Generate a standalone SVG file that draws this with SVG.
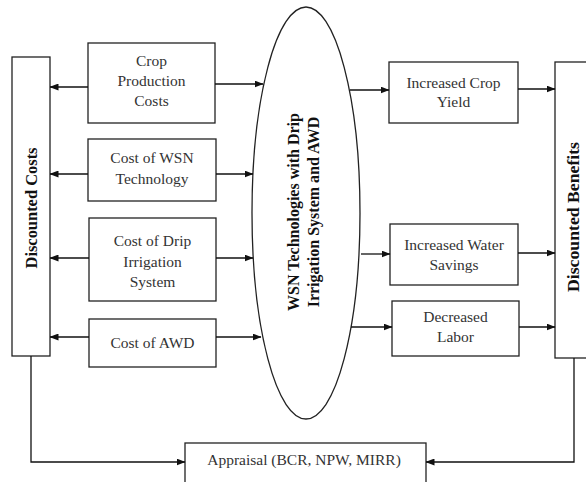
<svg xmlns="http://www.w3.org/2000/svg" width="586" height="482" viewBox="0 0 586 482">
<defs>
<marker id="ah" markerWidth="9" markerHeight="7" refX="8.5" refY="3.5" orient="auto" markerUnits="userSpaceOnUse">
<path d="M0,0 L9,3.5 L0,7 z" fill="#111"/>
</marker>
<style>
rect, ellipse { fill: #fff; stroke: #222; stroke-width: 1.3; }
.t { font-family: "Times New Roman", "Liberation Serif", "DejaVu Serif", serif; font-size: 15.5px; font-weight: normal; fill: #333; text-anchor: middle; }
.b { font-family: "Liberation Serif", "Times New Roman", serif; font-size: 16px; font-weight: bold; fill: #111; text-anchor: middle; }
#connectors path, #connectors line { fill: none; stroke: #111; stroke-width: 1.3; marker-end: url(#ah); }
</style>
</defs>
<rect width="586" height="482" style="fill:#fff;stroke:none"/>

<g id="discounted-costs">
<rect x="12" y="57" width="38" height="299"/>
<text class="b" transform="translate(37,208) rotate(-90)" textLength="121" lengthAdjust="spacingAndGlyphs">Discounted Costs</text>
</g>

<g id="crop-production-costs">
<rect x="88" y="43" width="127" height="80"/>
<text class="t" x="151.5" y="66">Crop</text>
<text class="t" x="151.5" y="86">Production</text>
<text class="t" x="151.5" y="106">Costs</text>
</g>

<g id="cost-wsn">
<rect x="88" y="139" width="128" height="62"/>
<text class="t" x="152" y="163">Cost of WSN</text>
<text class="t" x="152" y="184">Technology</text>
</g>

<g id="cost-drip">
<rect x="89" y="218" width="127" height="83"/>
<text class="t" x="152.5" y="246">Cost of Drip</text>
<text class="t" x="152.5" y="267">Irrigation</text>
<text class="t" x="152.5" y="287">System</text>
</g>

<g id="cost-awd">
<rect x="89" y="319" width="127" height="48"/>
<text class="t" x="152.5" y="348">Cost of AWD</text>
</g>

<g id="wsn-technologies">
<ellipse cx="306" cy="213" rx="54" ry="206"/>
<text class="b" transform="translate(299,212) rotate(-90)">WSN Technologies with Drip</text>
<text class="b" transform="translate(319,212) rotate(-90)">Irrigation System and AWD</text>
</g>

<g id="increased-crop-yield">
<rect x="389" y="62" width="129" height="61"/>
<text class="t" x="453.5" y="88">Increased Crop</text>
<text class="t" x="453.5" y="107">Yield</text>
</g>

<g id="increased-water-savings">
<rect x="390" y="224" width="128" height="61"/>
<text class="t" x="454" y="250">Increased Water</text>
<text class="t" x="454" y="270">Savings</text>
</g>

<g id="decreased-labor">
<rect x="392" y="301" width="127" height="55"/>
<text class="t" x="455.5" y="322">Decreased</text>
<text class="t" x="455.5" y="342">Labor</text>
</g>

<g id="discounted-benefits">
<rect x="555" y="62" width="40" height="296"/>
<text class="b" transform="translate(579,217) rotate(-90)" textLength="150" lengthAdjust="spacingAndGlyphs">Discounted Benefits</text>
</g>

<g id="appraisal">
<rect x="185" y="443" width="241" height="50"/>
<text class="t" x="304" y="465">Appraisal (BCR, NPW, MIRR)</text>
</g>

<g id="connectors">
<line x1="88" y1="87" x2="50" y2="87"/>
<line x1="215" y1="84" x2="263" y2="84"/>
<line x1="88" y1="174" x2="50" y2="174"/>
<line x1="216" y1="174" x2="253" y2="174"/>
<line x1="89" y1="258" x2="50" y2="258"/>
<line x1="216" y1="258" x2="253" y2="258"/>
<line x1="89" y1="337" x2="50" y2="337"/>
<line x1="216" y1="337" x2="261" y2="337"/>
<line x1="350" y1="90" x2="389" y2="90"/>
<line x1="518" y1="89" x2="555" y2="89"/>
<line x1="361" y1="254" x2="390" y2="254"/>
<line x1="518" y1="253" x2="555" y2="253"/>
<line x1="351" y1="327" x2="392" y2="327"/>
<line x1="519" y1="327" x2="555" y2="327"/>
<path d="M31,356 V462 H185"/>
<path d="M574,358 V462 H426"/>
</g>
</svg>
